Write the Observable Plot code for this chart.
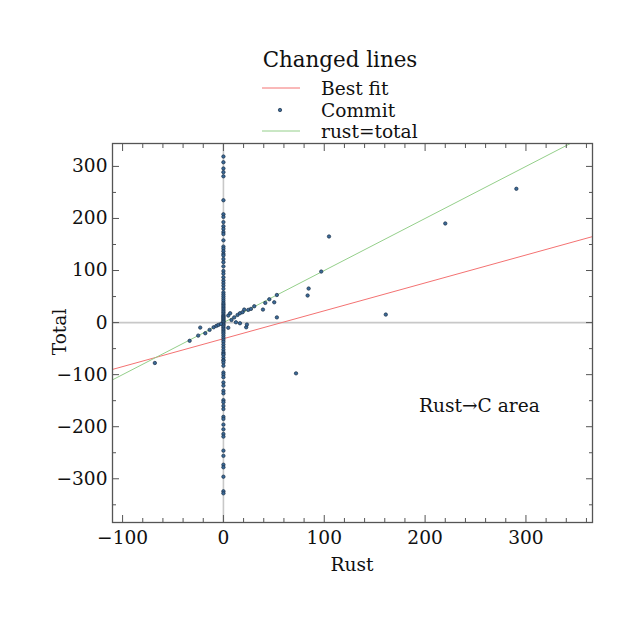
<!DOCTYPE html>
<html><head><meta charset="utf-8">
<script src="https://cdn.jsdelivr.net/npm/d3@7"></script>
<script src="https://cdn.jsdelivr.net/npm/@observablehq/plot@0.6"></script>
<style>body{margin:0;background:#fff}</style>
</head><body><div id="chart"></div>
<script>
// Commits where Rust changed lines = 0 (total only)
const zeroRustTotals = [319, 308, 296, 289, 281, 235, 208, 203, 193, 185, 180, 174, 170, 158, 146, 142, 137, 132, 129, 122, 116, 108, 99, 94, 87, 81, 76, 71, 65, 58, 54, 50, 46, 42, 38, 35, 32, 29, 26, 23, 20, 17, 14, 12, 10, 8, 6, 4, 2, 1,
  -2, -4, -6, -9, -12, -15, -18, -21, -25, -29, -33, -37, -42, -47, -52, -57, -60, -62, -67, -72, -73, -77, -83,
  -96, -100, -105, -115, -121, -131, -136, -149, -153, -160, -166, -181, -185, -196, -205, -214, -219, -246, -256, -273, -278, -296, -324, -328];
// Commits with non-zero Rust changes
const rustLines  = [-68, -33.5, -25, -23, -18, -13.7, -9.7, -7, -5, -2.5, 4.8, 4.8, 6.7, 8, 10.7, 12.4, 14, 16.4, 16.4, 19, 20.6, 22.6, 23.3, 24.6, 27.3, 30.6, 39.2, 41.5, 45.5, 50.4, 53, 53, 72, 83.5, 84.5, 97, 104.7, 161, 220, 290.5];
const totalLines = [-77.6, -35, -25, -9.6, -20.5, -14, -9, -6.4, -4.5, -2.6, -10, 13.5, 18, 5, 10, 0.6, 14.7, 18, -1.3, 20, 25, -9, -3.8, 24.4, 26.3, 31.4, 25, 37.8, 44.8, 39, 53, 10, -97.5, 52, 65.4, 98, 165.4, 15.4, 190.4, 257];
// Best fit line
const fitSlope = 0.536;
const fitIntercept = -31;
// Axes
const xDomain = [-110, 366];
const yDomain = [-384, 344];
const xMajor = [-100, 0, 100, 200, 300];
const xMinor = [-100, -80, -60, -40, -20, 0, 20, 40, 60, 80, 100, 120, 140, 160, 180, 200, 220, 240, 260, 280, 300, 320, 340, 360];
const yMajor = [-300, -200, -100, 0, 100, 200, 300];
const yMinor = [-350, -300, -250, -200, -150, -100, -50, 0, 50, 100, 150, 200, 250, 300];
const legendTitle = "Changed lines";
const legendLabels = ["Best fit", "Commit", "rust=total"];
const annotation = [{x: 194, y: -160, text: "Rust\u2192C area"}];

const commits = zeroRustTotals.map(t => ({rust: 0, total: t}))
  .concat(rustLines.map((r, i) => ({rust: r, total: totalLines[i]})));
const fitLine = xDomain.map(x => ({x, y: fitSlope * x + fitIntercept}));
const identLine = xDomain.map(x => ({x, y: x}));

const RED = "#f47272", GREEN = "#94cf8a", DOTFILL = "#3b6a98", DOTSTROKE = "#1b2f46";
const FONT = "DejaVu Serif";
const FS = 18.6;
const minorX = xMinor.filter(v => !xMajor.includes(v));
const minorY = yMinor.filter(v => !yMajor.includes(v));
const fmt = d => d < 0 ? "\u2212" + Math.abs(d) : String(d);

const plot = Plot.plot({
  width: 643, height: 621,
  marginLeft: 112, marginRight: 51, marginTop: 143, marginBottom: 99,
  style: {fontFamily: FONT, fontSize: FS + "px", color: "#111", background: "#fff"},
  x: {domain: xDomain, tickFormat: fmt},
  y: {domain: yDomain, tickFormat: fmt},
  marks: [
    Plot.ruleY([0], {stroke: "#c8c8c8", strokeWidth: 1.6}),
    Plot.ruleX([0], {stroke: "#c8c8c8", strokeWidth: 1.6}),
    Plot.line(fitLine, {x: "x", y: "y", stroke: RED, strokeWidth: 1, clip: true}),
    Plot.line(identLine, {x: "x", y: "y", stroke: GREEN, strokeWidth: 1, clip: true}),
    Plot.dot(commits, {x: "rust", y: "total", r: 1.7, fill: DOTFILL, stroke: DOTSTROKE, strokeWidth: 0.7}),
    Plot.text(annotation, {x: "x", y: "y", text: "text", textAnchor: "start", fontSize: FS, fill: "#111"}),
    Plot.frame({stroke: "#555", strokeWidth: 1.3}),
    Plot.axisX(xMajor, {anchor: "bottom", tickSize: -7, tickPadding: 15, label: null, stroke: "#555", fontSize: FS}),
    Plot.axisX(xMajor, {anchor: "top", tickSize: -7, tickFormat: () => "", label: null, stroke: "#555"}),
    Plot.axisX(minorX, {anchor: "bottom", tickSize: -4, tickFormat: () => "", label: null, stroke: "#555"}),
    Plot.axisX(minorX, {anchor: "top", tickSize: -4, tickFormat: () => "", label: null, stroke: "#555"}),
    Plot.axisY(yMajor, {anchor: "left", tickSize: -7, tickPadding: 12, label: null, stroke: "#555", fontSize: FS}),
    Plot.axisY(yMajor, {anchor: "right", tickSize: -7, tickFormat: () => "", label: null, stroke: "#555"}),
    Plot.axisY(minorY, {anchor: "left", tickSize: -4, tickFormat: () => "", label: null, stroke: "#555"}),
    Plot.axisY(minorY, {anchor: "right", tickSize: -4, tickFormat: () => "", label: null, stroke: "#555"})
  ]
});
document.getElementById("chart").appendChild(plot);

const svg = d3.select(plot);
// axis labels
svg.append("text").attr("x", 352).attr("y", 571).attr("text-anchor", "middle")
  .attr("font-family", FONT).attr("font-size", FS).attr("fill", "#111").text("Rust");
svg.append("text").attr("transform", "translate(66,332) rotate(-90)").attr("text-anchor", "middle")
  .attr("font-family", FONT).attr("font-size", FS).attr("fill", "#111").text("Total");
// legend
const lg = svg.append("g").attr("font-family", FONT).attr("fill", "#111");
lg.append("text").attr("x", 340).attr("y", 67).attr("text-anchor", "middle").attr("font-size", 21.4).text(legendTitle);
const rowsY = [88, 110, 131];
legendLabels.forEach((lab, i) => {
  lg.append("text").attr("x", 321).attr("y", rowsY[i]).attr("dy", "0.35em").attr("text-anchor", "start")
    .attr("font-size", FS).text(lab);
});
lg.append("line").attr("x1", 262).attr("x2", 300).attr("y1", rowsY[0]).attr("y2", rowsY[0]).attr("stroke", RED);
lg.append("circle").attr("cx", 280).attr("cy", rowsY[1]).attr("r", 1.7).attr("fill", DOTFILL).attr("stroke", DOTSTROKE).attr("stroke-width", 0.7);
lg.append("line").attr("x1", 262).attr("x2", 300).attr("y1", rowsY[2]).attr("y2", rowsY[2]).attr("stroke", GREEN);
</script>
</body></html>
